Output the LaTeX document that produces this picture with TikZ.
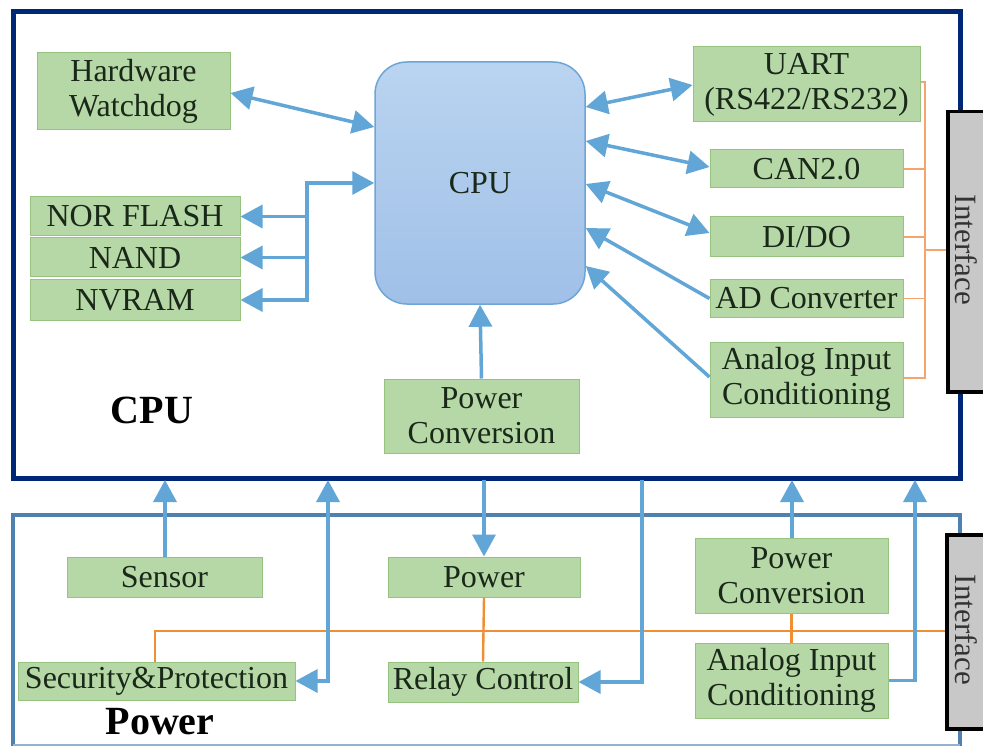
\documentclass[tikz,border=0pt]{standalone}
\usepackage{fontspec}
\setmainfont{Liberation Serif}
\usetikzlibrary{arrows.meta}
\definecolor{boxgreen}{RGB}{182,215,166}
\definecolor{boxborder}{RGB}{150,196,128}
\definecolor{boxtext}{RGB}{25,40,25}
\definecolor{arrblue}{RGB}{98,166,216}
\definecolor{navyline}{RGB}{0,38,118}
\definecolor{steelline}{RGB}{78,128,176}
\definecolor{orangeA}{RGB}{244,165,110}
\definecolor{orangeB}{RGB}{240,142,52}
\definecolor{cpuborder}{RGB}{110,165,215}
\definecolor{cputop}{RGB}{186,212,240}
\definecolor{cpubot}{RGB}{160,192,232}
\definecolor{ifgray}{RGB}{200,200,200}
\tikzset{
  gbox/.style={draw=boxborder, fill=boxgreen, text=boxtext, line width=1pt, inner sep=0pt,
    align=center, font=\fontsize{32}{35}\selectfont},
  conn/.style={draw=arrblue, line width=3.5pt},
  obus/.style={draw=orangeA, line width=1.6pt},
  obusb/.style={draw=orangeB, line width=2.4pt},
  ifbox/.style={draw=black, fill=ifgray, line width=3.5pt, anchor=north west, inner sep=0pt},
  iftext/.style={rotate=-90, text=black!80, font=\fontsize{31}{34}\selectfont},
  biglabel/.style={font=\fontsize{40}{44}\selectfont\bfseries, text=black},
  >={Triangle[length=22pt,width=23pt]}
}
\begin{document}
\begin{tikzpicture}[x=1pt,y=-1pt]
\useasboundingbox (0,0) rectangle (983,746);
\clip (0,0) rectangle (983,746);
\fill[white] (0,0) rectangle (983,746);

% ---------- frames ----------
\draw[navyline, line width=5pt] (960,110) -- (960,12) -- (13,12) -- (13,478) -- (960,478) -- (960,390);
\draw[steelline, line width=4pt] (960,533) -- (960,515) -- (13,515) -- (13,746);
\draw[steelline, line width=4pt] (960,727) -- (960,746);
\draw[steelline!60, line width=2pt] (13,745) -- (960,745);

% ---------- interface boxes ----------
\node[ifbox, minimum width=54pt, minimum height=280pt] (if1) at (946,110) {};
\node[iftext] (if1t) at (966,250) {Interface};
\node[ifbox, minimum width=55pt, minimum height=194pt] (if2) at (945,533) {};
\node[iftext] (if2t) at (966,630) {Interface};

% ---------- top section nodes ----------
\node[gbox, minimum width=193pt, minimum height=77pt] (wd) at (133.5,91.5) {Hardware\\Watchdog};
\node[gbox, minimum width=210pt, minimum height=39pt] (nor) at (135,216.5) {NOR FLASH};
\node[gbox, minimum width=210pt, minimum height=39pt] (nand) at (135,257.5) {NAND};
\node[gbox, minimum width=210pt, minimum height=40pt] (nvram) at (135,300) {NVRAM};
\node[draw=cpuborder, line width=1.5pt, top color=cputop, bottom color=cpubot, rounded corners=32pt,
  minimum width=210pt, minimum height=242pt, text=boxtext, font=\fontsize{32}{35}\selectfont] (cpu) at (480,183) {CPU};
\node[gbox, minimum width=195pt, minimum height=74pt] (pc1) at (481.5,416) {Power\\Conversion};
\node[gbox, minimum width=227pt, minimum height=75pt] (uart) at (806.5,84.5) {UART\\(RS422/RS232)};
\node[gbox, minimum width=193pt, minimum height=38pt] (can) at (806.5,169) {CAN2.0};
\node[gbox, minimum width=193pt, minimum height=40pt] (dido) at (806.5,237) {DI/DO};
\node[gbox, minimum width=193pt, minimum height=37pt] (ad) at (806.5,298.5) {AD Converter};
\node[gbox, minimum width=193pt, minimum height=75pt] (ain1) at (806.5,379.5) {Analog Input\\Conditioning};
\node[biglabel] (lcpu) at (152,410) {CPU};

% ---------- bottom section nodes ----------
\node[gbox, minimum width=195pt, minimum height=40pt] (sensor) at (164.5,577) {Sensor};
\node[gbox, minimum width=277pt, minimum height=38pt] (sec) at (156.5,681) {Security\&Protection};
\node[gbox, minimum width=192pt, minimum height=40pt] (pwr) at (484,577) {Power};
\node[gbox, minimum width=190pt, minimum height=40pt] (relay) at (483,682) {Relay Control};
\node[gbox, minimum width=193pt, minimum height=75pt] (pc2) at (791.5,575.5) {Power\\Conversion};
\node[gbox, minimum width=193pt, minimum height=75pt] (ain2) at (791.5,680.5) {Analog Input\\Conditioning};
\node[biglabel] (lpwr) at (160,722) {Power};

% ---------- helper coordinates ----------
\coordinate (yWd) at (0,93);
\coordinate (yWdC) at (0,127);
\coordinate (bus) at (307,183);
\coordinate (yU) at (0,107);
\coordinate (yC) at (0,141);
\coordinate (yD) at (0,184);
\coordinate (yA) at (0,228);
\coordinate (yN) at (0,266);
\coordinate (t1) at (165,480);
\coordinate (t2) at (328,480);
\coordinate (t3) at (484,480);
\coordinate (t4) at (642,480);
\coordinate (t5) at (792,480);
\coordinate (t6) at (915,480);
\coordinate (obx) at (925,0);
\coordinate (obt) at (925,250);
\coordinate (obb) at (155,631);

% ---------- orange buses ----------
\draw[obus] (uart.east |- 0,82) -- (925,82) -- (925,378) -- (ain1.east |- 0,378);
\draw[obus] (can.east) -- (can.east -| obx);
\draw[obus] (dido.east) -- (dido.east -| obx);
\draw[obus] (ad.east) -- (ad.east -| obx);
\draw[obus] (obt) -- (if1.west |- obt);
\draw[obusb] (sec.north -| obb) -- (obb) -- (if2.west |- obb);
\draw[obusb] (pwr.south) -- (relay.north);
\draw[obusb] (pc2.south) -- (ain2.north);

% ---------- top connectors ----------
\draw[conn,<->] (wd.east |- yWd) -- (cpu.west |- yWdC);
\draw[conn,<->] (nvram.east) -- (bus |- nvram.east) -- (bus) -- (cpu.west |- bus);
\draw[conn,->] (bus |- nor.east) -- (nor.east);
\draw[conn,->] (bus |- nand.east) -- (nand.east);
\draw[conn,->] (pc1.north) -- (cpu.south);
\draw[conn,<->] (cpu.east |- yU) -- (uart.west |- 0,85);
\draw[conn,<->] (cpu.east |- yC) -- (can.west |- 0,167);
\draw[conn,<->] (cpu.east |- yD) -- (dido.west |- 0,233);
\draw[conn,<-] (cpu.east |- yA) -- (ad.west);
\draw[conn,<-] (cpu.east |- yN) -- (ain1.west |- 0,377);

% ---------- inter-section connectors ----------
\draw[conn,->] (sensor.north -| t1) -- (t1);
\draw[conn,<->] (t2) |- (sec.east);
\draw[conn,->] (t3) -- (pwr.north);
\draw[conn,->] (t4) |- (relay.east);
\draw[conn,->] (pc2.north -| t5) -- (t5);
\draw[conn,->] (ain2.east) -| (t6);
\end{tikzpicture}
\end{document}
